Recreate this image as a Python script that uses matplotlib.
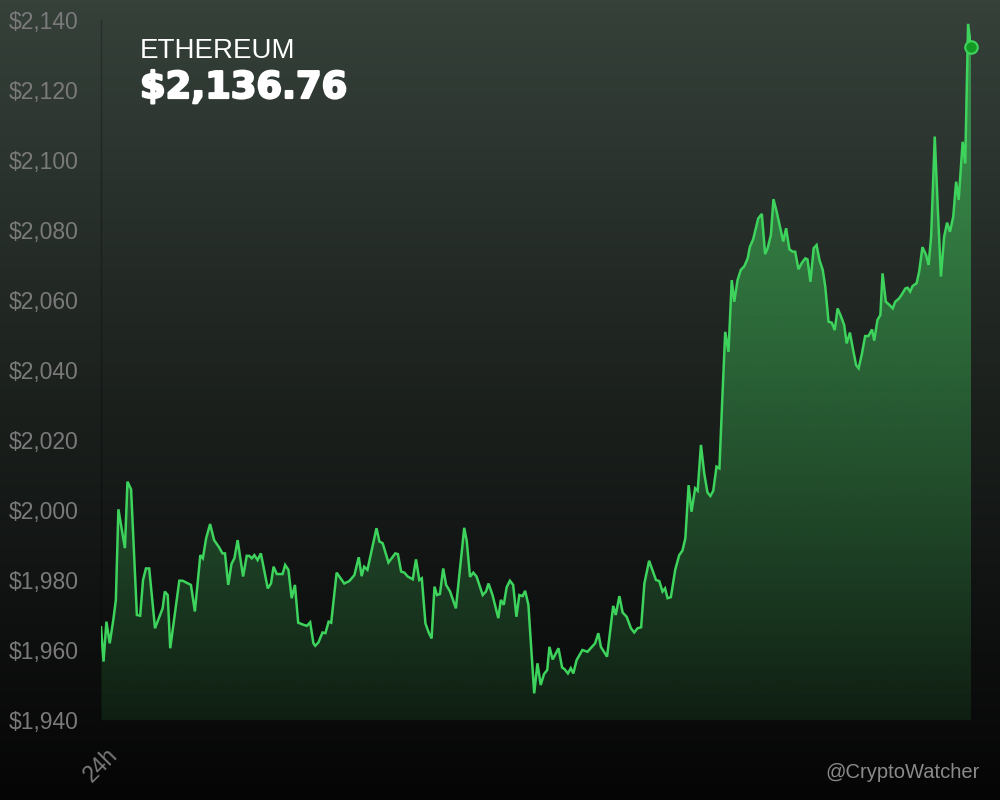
import numpy as np
import matplotlib.pyplot as plt
import matplotlib.patheffects as pe
from matplotlib.colors import LinearSegmentedColormap

plt.rcParams['font.family'] = ['Liberation Sans', 'DejaVu Sans']

# hours since window start, ETH price in USD
hours = [0.02, 0.09, 0.17, 0.26, 0.36, 0.43, 0.50, 0.68, 0.75, 0.85,
         1.01, 1.10, 1.18, 1.26, 1.35, 1.51, 1.63, 1.72, 1.78, 1.86,
         1.93, 2.18, 2.27, 2.50, 2.61, 2.76, 2.83, 2.92, 3.03, 3.14,
         3.28, 3.37, 3.44, 3.53, 3.62, 3.70, 3.79, 3.85, 3.94, 4.04,
         4.11, 4.18, 4.25, 4.34, 4.43, 4.52, 4.62, 4.71, 4.78, 4.87,
         5.03, 5.10, 5.19, 5.28, 5.37, 5.46, 5.58, 5.70, 5.79, 5.88,
         5.93, 6.02, 6.13, 6.21, 6.30, 6.37, 6.52, 6.73, 6.87, 7.01,
         7.13, 7.21, 7.28, 7.37, 7.62, 7.70, 7.79, 7.95, 8.14, 8.21,
         8.30, 8.39, 8.48, 8.62, 8.71, 8.80, 8.87, 8.97, 9.06, 9.14,
         9.22, 9.29, 9.37, 9.46, 9.54, 9.65, 9.81, 10.04, 10.11, 10.20,
         10.29, 10.38, 10.55, 10.64, 10.71, 10.82, 10.98, 11.05, 11.13, 11.21,
         11.30, 11.39, 11.48, 11.56, 11.65, 11.72, 11.81, 11.97, 12.06, 12.15,
         12.24, 12.33, 12.39, 12.48, 12.64, 12.74, 12.81, 12.90, 12.98, 13.05,
         13.14, 13.30, 13.44, 13.65, 13.74, 13.81, 13.98, 14.15, 14.22, 14.32,
         14.41, 14.52, 14.64, 14.73, 14.82, 14.92, 15.01, 15.14, 15.33, 15.42,
         15.51, 15.58, 15.65, 15.74, 15.86, 15.97, 16.06, 16.14, 16.23, 16.31,
         16.41, 16.48, 16.57, 16.66, 16.75, 16.83, 16.91, 17.00, 17.08, 17.15,
         17.24, 17.33, 17.42, 17.49, 17.58, 17.67, 17.77, 17.86, 17.92, 18.01,
         18.15, 18.25, 18.34, 18.41, 18.50, 18.57, 18.66, 18.75, 18.84, 18.92,
         19.01, 19.10, 19.17, 19.26, 19.36, 19.45, 19.51, 19.59, 19.68, 19.76,
         19.84, 19.93, 20.00, 20.09, 20.18, 20.26, 20.34, 20.43, 20.52, 20.59,
         20.68, 20.75, 20.85, 20.92, 21.01, 21.10, 21.19, 21.29, 21.35, 21.44,
         21.52, 21.58, 21.67, 21.77, 21.86, 21.93, 22.04, 22.13, 22.21, 22.27,
         22.34, 22.41, 22.52, 22.59, 22.68, 22.78, 22.85, 22.92, 23.02, 23.10,
         23.19, 23.28, 23.36, 23.44, 23.53, 23.61, 23.68, 23.79, 23.86, 23.94,
         24.02]
price = [1966.5, 1956.7, 1968.1, 1961.9, 1968.6, 1974.3, 2000.2, 1989.1, 2008.1, 2005.9,
         1970.0, 1969.8, 1980.0, 1983.3, 1983.3, 1966.2, 1969.5, 1971.9, 1976.7, 1975.7,
         1960.5, 1979.8, 1979.8, 1978.6, 1971.0, 1987.1, 1986.2, 1991.9, 1996.0, 1991.4,
         1989.3, 1987.6, 1987.6, 1978.6, 1984.6, 1986.2, 1991.4, 1987.1, 1981.0, 1986.9,
         1986.9, 1986.2, 1987.1, 1985.7, 1987.6, 1982.9, 1977.6, 1979.0, 1983.8, 1981.7,
         1981.7, 1984.3, 1982.9, 1974.8, 1978.6, 1967.8, 1967.3, 1966.9, 1967.9, 1961.9,
         1961.2, 1962.2, 1965.0, 1964.8, 1968.1, 1967.8, 1982.1, 1979.0, 1979.7, 1981.4,
         1986.5, 1981.1, 1983.8, 1982.9, 1994.8, 1991.0, 1990.5, 1985.0, 1987.6, 1987.4,
         1982.4, 1982.1, 1981.0, 1980.2, 1985.9, 1980.0, 1980.5, 1967.6, 1965.0, 1963.3,
         1978.1, 1975.7, 1976.0, 1983.3, 1978.6, 1976.7, 1971.9, 1994.9, 1991.1, 1980.9,
         1982.1, 1981.0, 1975.7, 1976.7, 1979.0, 1975.7, 1969.1, 1974.3, 1972.9, 1977.9,
         1979.8, 1978.6, 1969.5, 1975.7, 1975.4, 1976.9, 1972.9, 1947.6, 1956.2, 1950.0,
         1953.1, 1954.3, 1960.9, 1957.3, 1960.5, 1955.0, 1954.5, 1953.3, 1954.8, 1953.3,
         1957.1, 1960.0, 1959.5, 1961.9, 1964.8, 1960.9, 1958.1, 1972.6, 1970.0, 1975.4,
         1970.7, 1969.5, 1966.2, 1965.0, 1966.2, 1966.5, 1979.0, 1985.5, 1980.0, 1979.7,
         1976.7, 1977.6, 1974.8, 1975.1, 1982.9, 1987.1, 1988.4, 1991.9, 2007.1, 1999.5,
         2006.2, 2005.5, 2018.6, 2010.5, 2005.0, 2004.0, 2005.5, 2012.4, 2011.9, 2029.5,
         2050.9, 2045.2, 2065.7, 2059.5, 2065.7, 2068.6, 2069.7, 2071.9, 2075.2, 2077.3,
         2083.3, 2084.6, 2073.1, 2074.8, 2078.6, 2088.8, 2085.2, 2081.0, 2076.7, 2080.5,
         2074.5, 2073.8, 2073.8, 2068.8, 2070.7, 2071.9, 2071.6, 2065.2, 2074.8, 2075.7,
         2071.4, 2068.6, 2063.8, 2053.8, 2053.5, 2051.4, 2057.6, 2055.4, 2052.9, 2047.6,
         2050.7, 2046.7, 2041.4, 2040.5, 2044.6, 2049.7, 2049.7, 2051.6, 2048.4, 2054.3,
         2055.7, 2067.6, 2059.5, 2058.6, 2057.6, 2059.5, 2060.5, 2061.9, 2063.3, 2063.5,
         2062.4, 2064.0, 2064.8, 2068.1, 2075.1, 2072.9, 2070.0, 2078.1, 2106.7, 2087.1,
         2066.7, 2078.1, 2082.1, 2079.5, 2083.8, 2093.8, 2088.6, 2105.2, 2099.0, 2138.9,
         2132.4]

yticks = [1940, 1960, 1980, 2000, 2020, 2040, 2060, 2080, 2100, 2120, 2140]
coin = "ETHEREUM"
last_price = "$2,136.76"

line_color = '#3dd35c'

fig = plt.figure(figsize=(10, 8), dpi=100)

# background gradient
bg = fig.add_axes([0, 0, 1, 1], zorder=0)
bg_cmap = LinearSegmentedColormap.from_list('bg', ['#050505', '#1b201d', '#36413a'])
bg.imshow(np.linspace(0, 1, 256).reshape(-1, 1), cmap=bg_cmap, aspect='auto',
          origin='lower', extent=(0, 1, 0, 1))
bg.set_axis_off()

ax = fig.add_axes([0.101, 0.10, 0.870, 0.875], zorder=1)
ax.patch.set_alpha(0)

x0, x1 = min(hours), max(hours)
ylo, yhi = yticks[0], yticks[-1]

# gradient fill under the line
poly = ax.fill_between(hours, price, ylo, color='none', lw=0)
grad = np.zeros((256, 1, 4))
grad[:, 0, 0] = 60 / 255
grad[:, 0, 1] = 185 / 255
grad[:, 0, 2] = 85 / 255
grad[:, 0, 3] = np.linspace(0.12, 0.72, 256)
im = ax.imshow(grad, aspect='auto', origin='lower', extent=(x0, x1, ylo, yhi), zorder=1)
im.set_clip_path(poly.get_paths()[0], transform=ax.transData)

ax.plot(hours, price, color=line_color, lw=1.8, zorder=3, solid_joinstyle='miter')
ax.plot(hours[-1], price[-1], 'o', ms=9, mfc='#139a25', mec=line_color, mew=1.5,
        zorder=4, clip_on=False)

ax.set_xlim(x0, x1)
ax.set_ylim(ylo, yhi)
ax.set_yticks(yticks)
ax.set_yticklabels(['${:,}'.format(v) for v in yticks])
ax.set_xticks([x0])
ax.set_xticklabels(['24h'], rotation=45, ha='center')
ax.tick_params(axis='y', length=0, pad=16, labelsize=16.5, labelcolor='#7a7a7a')
ax.tick_params(axis='x', length=0, pad=17, labelsize=16.5, labelcolor='#7a7a7a')
for s in ['top', 'right', 'bottom']:
    ax.spines[s].set_visible(False)
ax.spines['left'].set_color((0, 0, 0, 0.25))
ax.spines['left'].set_linewidth(1)

fig.text(0.14, 1 - 38 / 800, coin, fontsize=20, color='white', va='top')
fig.text(0.14, 1 - 69 / 800, last_price, fontsize=26.5, fontweight='bold', color='white',
         va='top', family='DejaVu Sans',
         path_effects=[pe.withStroke(linewidth=1.6, foreground='white')])
fig.text(0.98, 1 - 773 / 800, '@CryptoWatcher', fontsize=14.5, color='#8a8a8a',
         ha='right', va='center')

fig.savefig('out.png', dpi=100)
